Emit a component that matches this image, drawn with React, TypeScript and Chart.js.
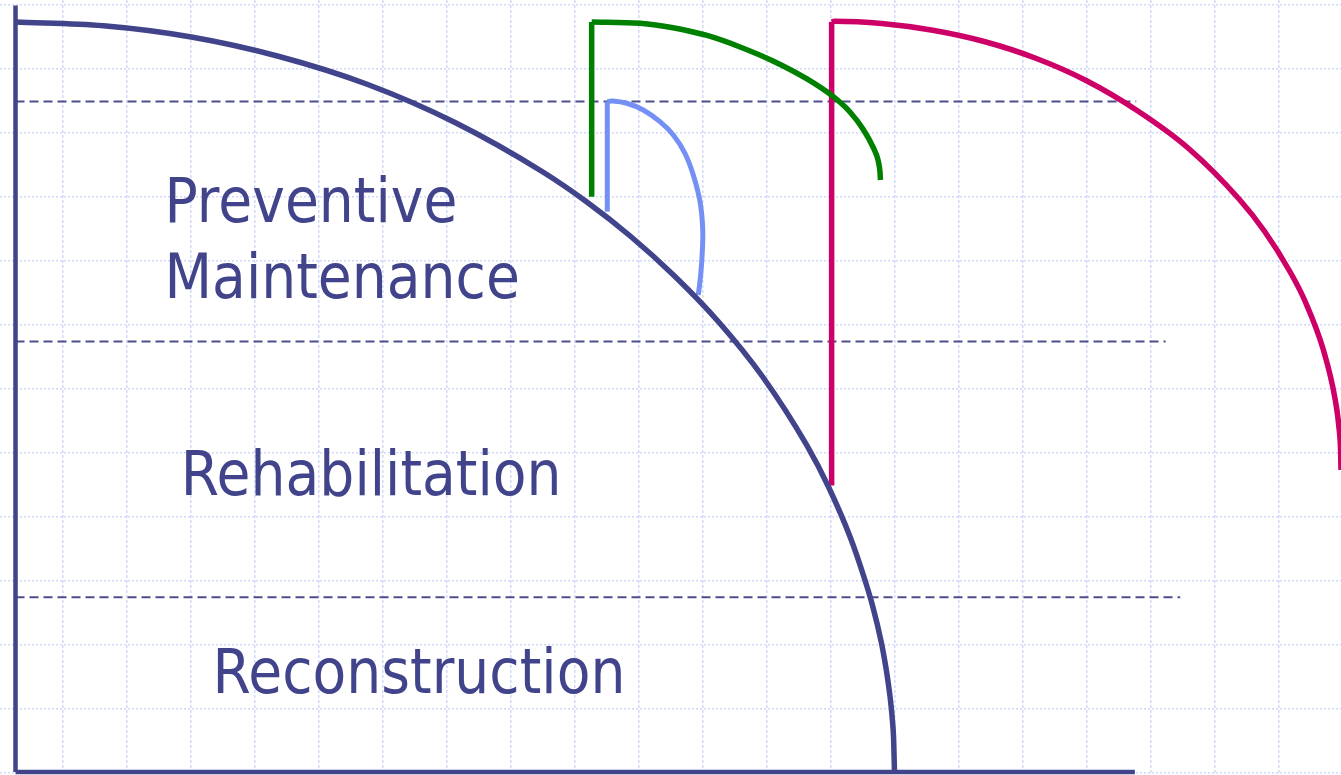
import React, { useEffect, useRef } from "react";
import { Chart, registerables } from "chart.js";

Chart.register(...registerables);

// ---- axis ranges (time in years, condition index 0-100) ----
const X_MIN = -0.353;
const X_MAX = 30.16;
const Y_MIN = -0.4;
const Y_MAX = 102.93;

// ---- do-nothing deterioration curve ----
const mainX = [0, 2, 4, 6, 8, 10, 12, 13, 14, 15, 16, 17, 18, 18.5, 19, 19.3, 19.5, 19.7, 19.8, 19.85, 19.9, 19.95, 19.98, 20];
const mainY = [100, 99.5, 98.0, 95.4, 91.7, 86.6, 80.0, 76.0, 71.4, 66.1, 60.0, 52.7, 43.6, 38.0, 31.2, 26.1, 22.2, 17.3, 14.1, 12.2, 10.0, 7.1, 4.5, 0];

// ---- preventive maintenance treatment (light blue) ----
const pmX = [13.465, 13.465, 13.565, 13.907, 14.284, 14.664, 14.967, 15.233, 15.422, 15.575, 15.636, 15.627, 15.59, 15.536];
const pmY = [74.71, 89.37, 89.47, 89.16, 88.27, 86.71, 84.93, 82.49, 79.6, 76.04, 72.49, 69.37, 66.27, 63.6];

// ---- rehabilitation treatment (green) ----
const rhX = [13.11, 13.11, 14.209, 14.96, 15.734, 16.485, 17.235, 18.009, 18.601, 18.987, 19.283, 19.511, 19.625, 19.67, 19.681];
const rhY = [76.71, 100.0, 99.83, 99.24, 98.2, 96.67, 94.8, 92.4, 90.07, 88.0, 85.73, 83.33, 81.6, 80.0, 78.93];

// ---- reconstruction (magenta) ----
const rcX = [18.57, 18.57, 18.64, 19.71, 20.87, 22.04, 23.20, 24.36, 25.52, 26.68, 27.84, 28.42, 29.0, 29.33, 29.76, 30.03, 30.12, 30.15, 30.16];
const rcY = [38.2, 100.0, 100.1, 99.8, 98.9, 97.4, 95.2, 92.2, 88.2, 83.2, 76.4, 72.1, 66.7, 62.93, 56.27, 49.6, 45.6, 42.93, 40.27];

// ---- axes lines ----
const axisTop = 102.2;
const axisRight = 25.47;

// ---- zone boundaries (dashed) ----
const boundaryY = [89.4, 57.4, 23.3];
const boundaryEnd = [25.5, 26.17, 26.5];

// ---- zone labels ----
const labelText = ["Preventive", "Maintenance", "Rehabilitation", "Reconstruction"];
const labelX = [3.39, 3.39, 3.76, 4.48];
const labelY = [73.33, 63.2, 36.93, 10.53];

// ---- background grid ----
const gridXStart = 1.081;
const gridXStep = 1.4562;
const gridYTop = 102.27;
const gridYStep = 8.5333;

const NAVY = "#41448b";
const LIGHT_BLUE = "#7590f5";
const GREEN = "#008000";
const MAGENTA = "#cc0066";
const DASH = "#4c4e8e";
const GRID = "#d0daf8";

const pts = (xs: number[], ys: number[]) => xs.map((v, i) => ({ x: v, y: ys[i] }));

const labelPlugin = {
  id: "zoneLabels",
  afterDatasetsDraw(chart: any) {
    const { ctx, scales } = chart;
    const xs = scales.x;
    const ys = scales.y;
    ctx.save();
    ctx.fillStyle = NAVY;
    ctx.font = '62px "DejaVu Sans"';
    ctx.textBaseline = "alphabetic";
    ctx.textAlign = "left";
    labelText.forEach((t, i) => {
      const px = xs.getPixelForValue(labelX[i]);
      const py = ys.getPixelForValue(labelY[i]);
      ctx.save();
      ctx.translate(px, py);
      ctx.scale(0.89, 1);
      ctx.fillText(t, 0, 0);
      ctx.restore();
    });
    ctx.restore();
  },
};

export default function App() {
  const ref = useRef<HTMLCanvasElement | null>(null);

  useEffect(() => {
    if (!ref.current) return;
    document.body.style.margin = "0";

    const line = (data: any[], color: string, width: number, extra: any = {}) => ({
      data,
      showLine: true,
      borderColor: color,
      backgroundColor: color,
      borderWidth: width,
      pointRadius: 0,
      pointHoverRadius: 0,
      tension: 0,
      fill: false,
      ...extra,
    });
    const mono = { cubicInterpolationMode: "monotone" };

    const datasets: any[] = [
      line(pts(mainX, mainY), NAVY, 5.5, mono),
      line([{ x: 0, y: 0 }, { x: 0, y: axisTop }], NAVY, 4.5),
      line([{ x: 0, y: 0 }, { x: axisRight, y: 0 }], NAVY, 4.5),
      line(pts(pmX.slice(0, 2), pmY.slice(0, 2)), LIGHT_BLUE, 5),
      line(pts(pmX.slice(1), pmY.slice(1)), LIGHT_BLUE, 5, { tension: 0.4 }),
      line(pts(rhX.slice(0, 2), rhY.slice(0, 2)), GREEN, 5.5),
      line(pts(rhX.slice(1), rhY.slice(1)), GREEN, 5.5, mono),
      line(pts(rcX.slice(0, 2), rcY.slice(0, 2)), MAGENTA, 5.5),
      line(pts(rcX.slice(1), rcY.slice(1)), MAGENTA, 5.5, mono),
      ...boundaryY.map((b, i) =>
        line([{ x: 0, y: b }, { x: boundaryEnd[i], y: b }], DASH, 2, { borderDash: [9, 5] })
      ),
    ];

    const chart = new Chart(ref.current, {
      type: "scatter",
      data: { datasets },
      options: {
        animation: false,
        responsive: false,
        events: [],
        layout: { padding: 0 },
        plugins: { legend: { display: false }, tooltip: { enabled: false } },
        scales: {
          x: {
            type: "linear",
            min: X_MIN,
            max: X_MAX,
            ticks: { display: false },
            border: { display: false, dash: [3, 2] },
            grid: { color: GRID, lineWidth: 1.5, drawTicks: false } as any,
            afterBuildTicks: (scale: any) => {
              const t: any[] = [];
              for (let v = gridXStart; v < X_MAX; v += gridXStep) t.push({ value: v });
              scale.ticks = t;
            },
          },
          y: {
            type: "linear",
            min: Y_MIN,
            max: Y_MAX,
            ticks: { display: false },
            border: { display: false, dash: [2, 2] },
            grid: { color: GRID, lineWidth: 1.5, drawTicks: false } as any,
            afterBuildTicks: (scale: any) => {
              const t: any[] = [];
              for (let v = gridYTop; v > Y_MIN; v -= gridYStep) t.push({ value: v });
              scale.ticks = t;
            },
          },
        },
      },
      plugins: [labelPlugin],
    });
    return () => chart.destroy();
  }, []);

  return (
    <div style={{ width: 1341, height: 775, background: "#fff" }}>
      <canvas ref={ref} width={1341} height={775} style={{ display: "block" }} />
    </div>
  );
}
